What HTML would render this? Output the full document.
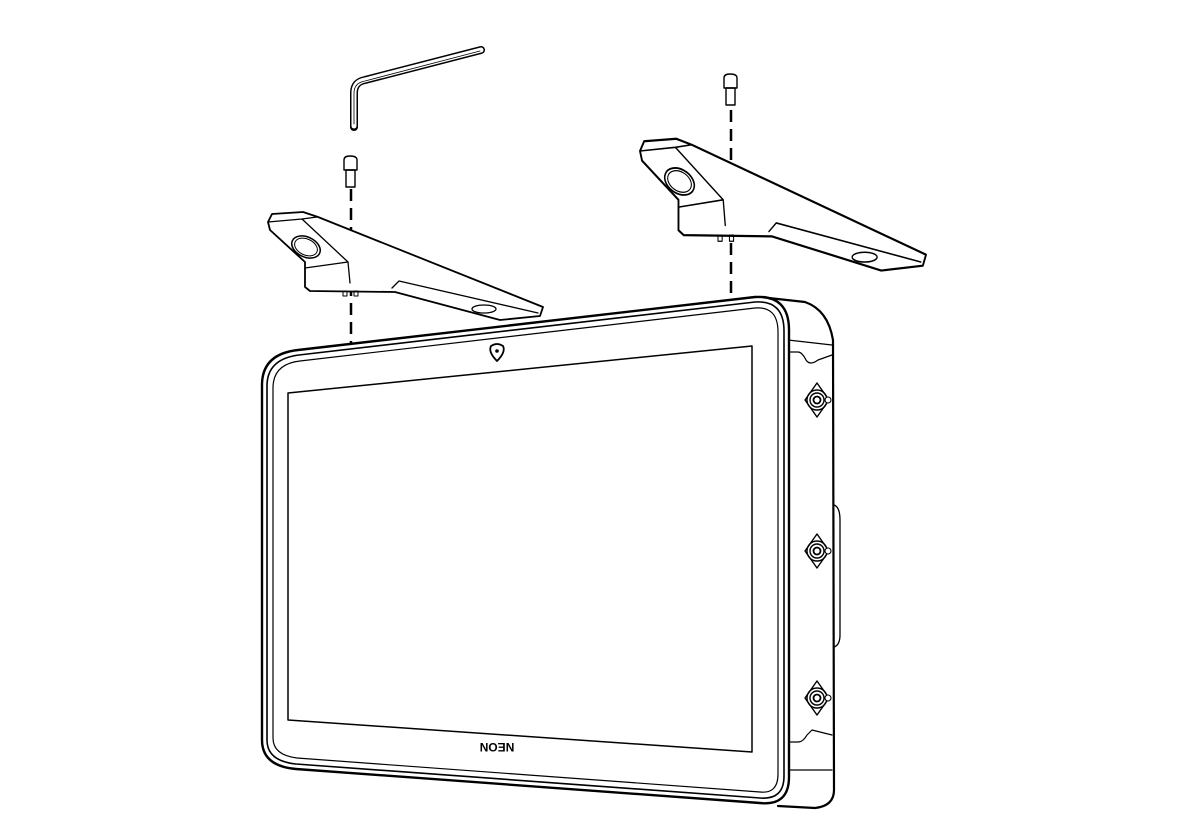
<!DOCTYPE html>
<html><head><style>html,body{margin:0;padding:0;background:#fff}svg{display:block}</style></head><body>
<svg width="1200" height="838" viewBox="0 0 1200 838" xmlns="http://www.w3.org/2000/svg" fill="none" stroke="#000" stroke-linejoin="round" stroke-linecap="round">
<defs>
<g id="br">
<path d="M268,222 L272,214 L303,212 L318,217 L543,307 L540,316 L500,320 L395,292 L310,291 L305,287 L305,262 L270,230 Z" fill="#fff" stroke-width="1.8"/>
<path d="M268,222 L302,219 L317,217 M302,219 L348,262 L350,283 M305,268 L348,262 M392,288 L399,281 L538,313" stroke-width="1.3"/>
<ellipse cx="306" cy="247" rx="15" ry="10" transform="rotate(25 306 247)" stroke-width="1.5"/>
<ellipse cx="306" cy="247" rx="12" ry="8" transform="rotate(25 306 247)" stroke-width="1"/>
<ellipse cx="484" cy="309" rx="12" ry="4" stroke-width="1.3"/>
<rect x="343" y="291" width="4" height="5" stroke-width="1"/><rect x="354" y="291" width="4" height="5" stroke-width="1"/>
</g>
<g id="knob">
<path d="M0,-17 L12,0 L0,17 L-12,0 Z" fill="#fff" stroke-width="1.4"/>
<circle r="10" stroke-width="1.4"/><circle r="7" stroke-width="1.4"/><circle r="3.5" stroke-width="1.8"/>
<circle cx="11" cy="0" r="3" fill="#fff" stroke-width="1.1"/>
</g>
</defs>
<!-- allen key -->
<path d="M354,127 L354,93 Q354,82 365,80 L481,50" stroke="#000" stroke-width="8"/>
<path d="M354,126 L354,93 Q354,82 365,80 L481,50" stroke="#fff" stroke-width="5"/>
<path d="M354,124 L354,93 Q354,83 365,81 L480,51" stroke-width="0.8"/>
<!-- screws -->
<g stroke-width="1.4">
<path d="M344,160 Q344,156 350,156 Q357,156 357,160 L357,170 L344,170 Z"/><rect x="346" y="170" width="9" height="17"/>
<path d="M724,78 Q724,74 730,74 Q737,74 737,78 L737,88 L724,88 Z"/><rect x="726" y="88" width="9" height="17"/>
</g>
<!-- dashed lines -->
<path d="M351,189 L351,350" stroke-width="2.5" stroke-dasharray="12 7" stroke-linecap="butt"/>
<path d="M731,110 L731,302" stroke-width="2.5" stroke-dasharray="12 7" stroke-linecap="butt"/>
<!-- brackets -->
<use href="#br"/>
<g transform="translate(640,140) scale(1.04,1.22) translate(-268,-213)"><use href="#br" style="vector-effect:non-scaling-stroke"/></g>
<!-- monitor side -->
<path d="M760,297 L805,302 Q828,310 833,340 L834,790 Q834,806 815,808 L778,806" fill="#fff" stroke-width="2.2"/>
<path d="M788,340 L832,345 M788,352 L798,352 Q802,352 806,360 Q810,366 818,360 L832,355 M788,742 L798,742 Q803,742 807,735 L812,730 L832,735 M788,770 L832,770" stroke-width="1.2"/>
<path d="M834,505 Q840,507 840,520 L840,635 Q840,645 834,647" stroke-width="1.3"/>
<use href="#knob" x="817" y="400"/><use href="#knob" x="817" y="551"/><use href="#knob" x="817" y="698"/>
<!-- monitor front -->
<path d="M298,350 L755,297 Q789,295 789,330 L789,777 Q789,806 760,803 L296,769 Q262,766 262,740 L262,385 Q262,354 298,350 Z" fill="#fff" stroke-width="2.4"/>
<path d="M299,355 L755,302 Q784,300 784,331 L784,776 Q784,800 760,798 L296,764 Q267,761 267,740 L267,386 Q267,359 299,355 Z" stroke-width="1.6"/>
<path d="M300,361 L755,308 Q778,306 778,332 L778,774 Q778,794 760,792 L297,758 Q273,755 273,738 L273,388 Q273,364 300,361 Z" stroke-width="1.2"/>
<path d="M288,393 L752,346 L752,752 L288,720 Z" stroke-width="1.5"/>
<!-- logo -->
<path d="M491,346 Q497,342 503,346 Q506,352 497,361 Q488,352 491,346 Z" stroke-width="1.8"/>
<circle cx="497" cy="351" r="1.8" fill="#000" stroke="none"/>
<text x="0" y="0" transform="translate(497,746) rotate(180)" font-family="Liberation Sans, sans-serif" font-size="12" font-weight="bold" fill="#000" stroke="none" text-anchor="middle" dominant-baseline="middle">NEON</text>
</svg>
</body></html>
